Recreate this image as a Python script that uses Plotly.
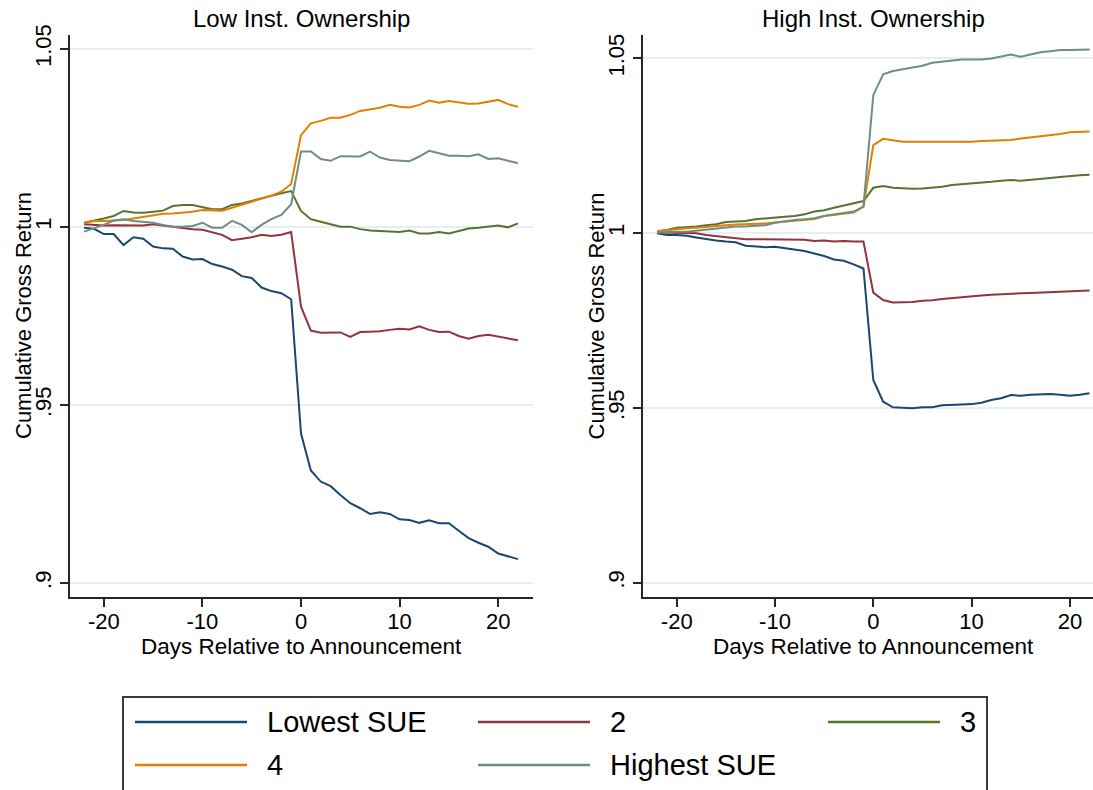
import plotly.graph_objects as go

W, H = 1093, 790


def px(x):
    return x / W


def py(y):
    return 1 - y / H


# ---------------- data ----------------
days = [-22, -21, -20, -19, -18, -17, -16, -15, -14, -13, -12, -11, -10, -9, -8, -7, -6, -5, -4, -3, -2, -1,
        0, 1, 2, 3, 4, 5, 6, 7, 8, 9, 10, 11, 12, 13, 14, 15, 16, 17, 18, 19, 20, 21, 22]

series_names = ["Lowest SUE", "2", "3", "4", "Highest SUE"]
series_colors = ["#1a476f", "#90353b", "#55752f", "#e37e00", "#6e8e84"]

panel_titles = ["Low Inst. Ownership", "High Inst. Ownership"]
y_title = "Cumulative Gross Return"
x_title = "Days Relative to Announcement"
x_ticks = [-20, -10, 0, 10, 20]
x_ticktext = ["-20", "-10", "0", "10", "20"]
y_ticks = [0.9, 0.95, 1.0, 1.05]
y_ticktext = [".9", ".95", "1", "1.05"]

# Low institutional ownership
low_lowest = [0.9998, 0.9995, 0.9980, 0.9980, 0.9949, 0.9971, 0.9967, 0.9945, 0.9940, 0.9939, 0.9917, 0.9909,
              0.9910, 0.9896, 0.9889, 0.9880, 0.9862, 0.9857, 0.9830, 0.9820, 0.9814, 0.9797,
              0.9420, 0.9316, 0.9285, 0.9272, 0.9247, 0.9224, 0.9210, 0.9194, 0.9199, 0.9194, 0.9179, 0.9177,
              0.9169, 0.9176, 0.9168, 0.9168, 0.9147, 0.9126, 0.9113, 0.9102, 0.9083, 0.9076, 0.9067]
low_q2 = [1.0008, 1.0006, 1.0004, 1.0005, 1.0005, 1.0006, 1.0004, 1.0008, 1.0004, 1.0001, 0.9996, 0.9994,
          0.9992, 0.9984, 0.9978, 0.9963, 0.9966, 0.9971, 0.9978, 0.9975, 0.9978, 0.9986,
          0.9776, 0.9709, 0.9703, 0.9704, 0.9704, 0.9691, 0.9705, 0.9706, 0.9707, 0.9711, 0.9714, 0.9712,
          0.9721, 0.9711, 0.9705, 0.9706, 0.9694, 0.9686, 0.9694, 0.9697, 0.9692, 0.9689, 0.9682]
low_q3 = [1.0012, 1.0017, 1.0024, 1.0031, 1.0045, 1.0041, 1.0040, 1.0043, 1.0046, 1.0059, 1.0062, 1.0062,
          1.0057, 1.0050, 1.0050, 1.0062, 1.0066, 1.0074, 1.0081, 1.0088, 1.0095, 1.0101,
          1.0045, 1.0022, 1.0015, 1.0007, 1.0001, 1.0001, 0.9994, 0.9990, 0.9989, 0.9986, 0.9986, 0.9990,
          0.9982, 0.9982, 0.9986, 0.9982, 0.9989, 0.9996, 0.9998, 1.0001, 1.0004, 0.9999, 1.0010]
low_q4 = [1.0012, 1.0017, 1.0017, 1.0018, 1.0020, 1.0024, 1.0029, 1.0034, 1.0037, 1.0038, 1.0040, 1.0043,
          1.0048, 1.0048, 1.0046, 1.0054, 1.0062, 1.0071, 1.0079, 1.0088, 1.0099, 1.0121,
          1.0258, 1.0291, 1.0298, 1.0307, 1.0307, 1.0315, 1.0326, 1.0331, 1.0335, 1.0343, 1.0338, 1.0336,
          1.0343, 1.0355, 1.0349, 1.0354, 1.0349, 1.0346, 1.0347, 1.0352, 1.0357, 1.0345, 1.0338]
low_highest = [0.9987, 0.9996, 1.0006, 1.0018, 1.0022, 1.0017, 1.0015, 1.0012, 1.0006, 1.0001, 1.0001, 1.0003,
               1.0012, 0.9998, 0.9998, 1.0017, 1.0006, 0.9985, 1.0006, 1.0022, 1.0034, 1.0064,
               1.0212, 1.0212, 1.0191, 1.0186, 1.0199, 1.0198, 1.0198, 1.0212, 1.0195, 1.0188, 1.0186, 1.0185,
               1.0198, 1.0214, 1.0207, 1.0200, 1.0200, 1.0199, 1.0204, 1.0191, 1.0193, 1.0186, 1.0179]

# High institutional ownership
high_lowest = [1.0000, 0.9995, 0.9995, 0.9993, 0.9988, 0.9983, 0.9979, 0.9976, 0.9974, 0.9964, 0.9961, 0.9960,
               0.9961, 0.9957, 0.9952, 0.9949, 0.9942, 0.9935, 0.9925, 0.9921, 0.9911, 0.9899,
               0.9580, 0.9518, 0.9502, 0.9501, 0.9499, 0.9502, 0.9502, 0.9508, 0.9510, 0.9510, 0.9511, 0.9515,
               0.9523, 0.9528, 0.9537, 0.9535, 0.9538, 0.9540, 0.9540, 0.9538, 0.9535, 0.9538, 0.9542]
high_q2 = [1.0002, 1.0002, 1.0002, 1.0000, 1.0000, 0.9995, 0.9992, 0.9990, 0.9987, 0.9983, 0.9983, 0.9983,
           0.9982, 0.9982, 0.9981, 0.9981, 0.9978, 0.9979, 0.9976, 0.9978, 0.9976, 0.9976,
           0.9830, 0.9809, 0.9802, 0.9802, 0.9803, 0.9807, 0.9808, 0.9812, 0.9815, 0.9818, 0.9820, 0.9822,
           0.9824, 0.9826, 0.9828, 0.9828, 0.9829, 0.9830, 0.9833, 0.9833, 0.9834, 0.9836, 0.9836]
high_q3 = [1.0006, 1.0009, 1.0016, 1.0017, 1.0019, 1.0023, 1.0026, 1.0032, 1.0034, 1.0035, 1.0040, 1.0043,
           1.0045, 1.0047, 1.0049, 1.0054, 1.0062, 1.0066, 1.0073, 1.0079, 1.0085, 1.0092,
           1.0130, 1.0135, 1.0130, 1.0128, 1.0127, 1.0128, 1.0130, 1.0133, 1.0138, 1.0140, 1.0141, 1.0145,
           1.0147, 1.0150, 1.0152, 1.0150, 1.0152, 1.0155, 1.0158, 1.0161, 1.0164, 1.0166, 1.0167]
high_q4 = [1.0006, 1.0009, 1.0013, 1.0014, 1.0016, 1.0019, 1.0021, 1.0023, 1.0025, 1.0026, 1.0025, 1.0028,
           1.0031, 1.0033, 1.0036, 1.0038, 1.0041, 1.0049, 1.0052, 1.0055, 1.0059, 1.0076,
           1.0252, 1.0270, 1.0265, 1.0262, 1.0262, 1.0262, 1.0262, 1.0260, 1.0262, 1.0262, 1.0262, 1.0264,
           1.0265, 1.0265, 1.0267, 1.0271, 1.0274, 1.0278, 1.0281, 1.0284, 1.0289, 1.0291, 1.0291]
high_highest = [1.0002, 1.0004, 1.0004, 1.0004, 1.0007, 1.0009, 1.0011, 1.0014, 1.0019, 1.0019, 1.0021, 1.0023,
                1.0030, 1.0035, 1.0038, 1.0040, 1.0043, 1.0049, 1.0054, 1.0059, 1.0062, 1.0076,
                1.0395, 1.0455, 1.0464, 1.0469, 1.0474, 1.0479, 1.0488, 1.0491, 1.0496, 1.0497, 1.0497, 1.0497,
                1.0500, 1.0505, 1.0511, 1.0505, 1.0512, 1.0518, 1.0521, 1.0524, 1.0524, 1.0524, 1.0526]

low_series = [low_lowest, low_q2, low_q3, low_q4, low_highest]
high_series = [high_lowest, high_q2, high_q3, high_q4, high_highest]

# ---------------- figure ----------------
FONT = "Liberation Sans, Arial, sans-serif"
AXIS_COL = "#262626"
GRID_COL = "#e6eef0"

fig = go.Figure()
for name, col, ys in zip(series_names, series_colors, low_series):
    fig.add_trace(go.Scatter(x=days, y=ys, mode="lines", name=name, showlegend=False,
                             line=dict(color=col, width=2), xaxis="x", yaxis="y"))
for name, col, ys in zip(series_names, series_colors, high_series):
    fig.add_trace(go.Scatter(x=days, y=ys, mode="lines", name=name, showlegend=False,
                             line=dict(color=col, width=2), xaxis="x2", yaxis="y2"))

common = dict(showline=True, linecolor=AXIS_COL, linewidth=1.5, ticks="outside", ticklen=8,
              tickwidth=1.5, tickcolor=AXIS_COL, zeroline=False, automargin=False,
              tickfont=dict(size=22, color="black", family=FONT))

xcommon = dict(common, tickvals=x_ticks, ticktext=x_ticktext, showgrid=False, ticklabelstandoff=-4)
ycommon = dict(common, tickvals=y_ticks, ticktext=y_ticktext, tickangle=-90,
               showgrid=True, gridcolor=GRID_COL, gridwidth=1.5)

fig.update_layout(
    width=W, height=H,
    autosize=False,
    margin=dict(l=0, r=0, t=0, b=0, pad=0, autoexpand=False),
    paper_bgcolor="white", plot_bgcolor="white",
    font=dict(family=FONT, color="black"),
    showlegend=False,
    xaxis=dict(xcommon, domain=[px(70), px(533)], range=[-23.43, 23.53], anchor="y"),
    yaxis=dict(ycommon, domain=[py(597), py(35)], range=[0.89607, 1.05393], anchor="x"),
    xaxis2=dict(xcommon, domain=[px(642.5), 1.0], range=[-23.48, 22.35], anchor="y2"),
    yaxis2=dict(ycommon, domain=[py(597), py(35)], range=[0.89591, 1.05672], anchor="x2"),
)

annotations = []
# panel titles
for title, cx in zip(panel_titles, [301, 873.3]):
    annotations.append(dict(text=title, x=px(cx), y=py(18), xref="paper", yref="paper",
                            showarrow=False, xanchor="center", yanchor="middle",
                            font=dict(size=24, family=FONT, color="black")))
# axis titles
for cx in [301, 873.3]:
    annotations.append(dict(text=x_title, x=px(cx), y=py(646), xref="paper", yref="paper",
                            showarrow=False, xanchor="center", yanchor="middle",
                            font=dict(size=22.5, family=FONT, color="black")))
for cx in [23, 595.5]:
    annotations.append(dict(text=y_title, x=px(cx), y=py(316), xref="paper", yref="paper",
                            showarrow=False, xanchor="center", yanchor="middle", textangle=-90,
                            font=dict(size=22, family=FONT, color="black")))

# legend (manual layout to mirror the reference's boxed 3-column legend)
shapes = [dict(type="rect", xref="paper", yref="paper", x0=px(123), x1=px(987), y0=py(697), y1=py(805),
               line=dict(color="#3a3a3a", width=2), fillcolor="rgba(0,0,0,0)")]
legend_slots = [(135, 722), (478, 722), (828, 722), (135, 765), (478, 765)]
for name, col, (lx, ly) in zip(series_names, series_colors, legend_slots):
    shapes.append(dict(type="line", xref="paper", yref="paper", x0=px(lx), x1=px(lx + 112),
                       y0=py(ly), y1=py(ly), line=dict(color=col, width=2.5)))
    annotations.append(dict(text=name, x=px(lx + 130), y=py(ly), xref="paper", yref="paper",
                            showarrow=False, xanchor="left", yanchor="middle",
                            font=dict(size=29, family=FONT, color="black")))

fig.update_layout(annotations=annotations, shapes=shapes)

fig.write_html("out.html")
